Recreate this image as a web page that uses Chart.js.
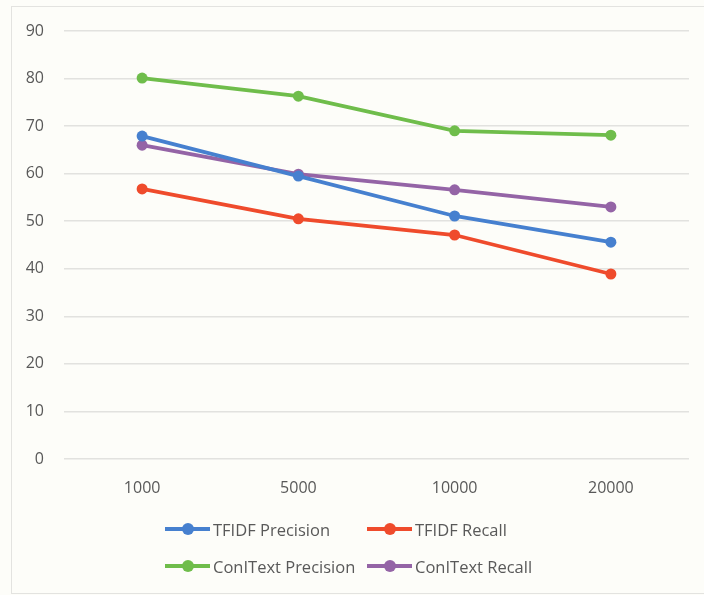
<!DOCTYPE html>
<html><head><meta charset="utf-8">
<script src="https://cdn.jsdelivr.net/npm/chart.js@4/dist/chart.umd.min.js"></script>
<style>
html,body{margin:0;padding:0;background:#fdfdf9;overflow:hidden;}
#wrap{position:absolute;left:0;top:0;width:704px;height:595px;overflow:hidden;}
#frame{position:absolute;left:11px;top:6px;width:710px;height:588px;border:1px solid #e3e3e0;box-sizing:border-box;}
canvas{position:absolute;left:0;top:0;}
#legend{position:absolute;left:0;top:0;width:704px;height:595px;pointer-events:none;font-family:"Open Sans",sans-serif;font-size:16.5px;color:#595959;}
.item{position:absolute;display:flex;align-items:center;height:20px;}
.sw{position:relative;width:45px;height:4px;margin-right:3px;}
.sw i{position:absolute;left:17px;top:-4px;width:12px;height:12px;border-radius:50%;}
</style></head>
<body><div id="wrap"><div id="frame"></div><canvas id="c" width="704" height="595"></canvas><div id="legend"></div></div>
<script>
const categories = ["1000", "5000", "10000", "20000"];
const seriesNames = ["TFIDF Precision", "TFIDF Recall", "ConIText Precision", "ConIText Recall"];
const tfidfPrecision = [67.9, 59.5, 51.1, 45.6];
const tfidfRecall = [56.8, 50.5, 47.1, 38.9];
const conitextPrecision = [80.1, 76.3, 69.0, 68.1];
const conitextRecall = [66.0, 59.9, 56.6, 53.0];
const colors = ["#4680cf", "#ef4b2c", "#6fbd4b", "#9464a6"];
const allSeries = [tfidfPrecision, tfidfRecall, conitextPrecision, conitextRecall];

const datasets = allSeries.map((d, i) => ({
  label: seriesNames[i], data: d,
  borderColor: colors[i], backgroundColor: colors[i],
  borderWidth: 3.8, pointRadius: 5.5, pointHoverRadius: 5.5,
  pointBorderWidth: 0, tension: 0
}));
const font = {family: '"Open Sans", sans-serif', size: 16};
new Chart(document.getElementById('c'), {
  type: 'line',
  data: {labels: categories, datasets},
  options: {
    responsive: false, animation: false,
    layout: {padding: {left: 0, top: 31, right: 15, bottom: 0}},
    plugins: {legend: {display: false}, tooltip: {enabled: false}},
    scales: {
      x: {
        offset: true,
        grid: {display: false, drawTicks: false}, border: {display: false},
        ticks: {color: '#595959', font, padding: 20},
        afterFit: s => { s.height = 136; }
      },
      y: {
        min: 0, max: 90,
        grid: {color: '#e2e2df', lineWidth: 1.5, drawTicks: false}, border: {display: false},
        ticks: {stepSize: 10, color: '#595959', font, padding: 20},
        afterFit: s => { s.width = 64; }
      }
    }
  }
});
const legendPos = [[165, 519], [367, 519], [165, 556], [367, 556]];
const lg = document.getElementById('legend');
seriesNames.forEach((n, i) => {
  const el = document.createElement('div');
  el.className = 'item';
  el.style.left = legendPos[i][0] + 'px';
  el.style.top = legendPos[i][1] + 'px';
  el.innerHTML = '<span class="sw" style="background:' + colors[i] + '"><i style="background:' + colors[i] + '"></i></span><span>' + n + '</span>';
  lg.appendChild(el);
});
</script>
</body></html>
